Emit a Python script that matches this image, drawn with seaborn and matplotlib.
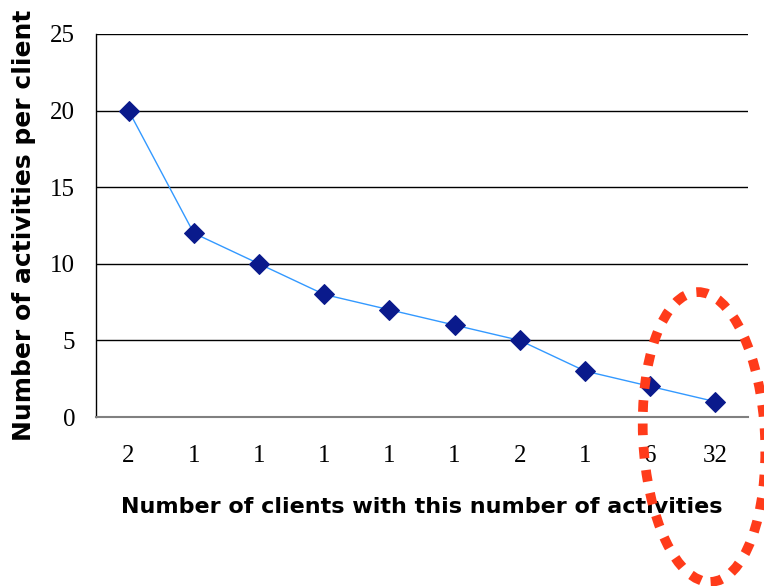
import numpy as np
import matplotlib
matplotlib.use("Agg")
import matplotlib.pyplot as plt
import seaborn as sns
import pandas as pd
from matplotlib.patches import Ellipse

# data
activities = [20, 12, 10, 8, 7, 6, 5, 3, 2, 1]
client_counts = ["2", "1", "1", "1", "1", "1", "2", "1", "6", "32"]

sns.set_style("white")
plt.rcParams["text.color"] = "black"
plt.rcParams["axes.labelcolor"] = "black"
plt.rcParams["xtick.color"] = "black"
plt.rcParams["ytick.color"] = "black"

df = pd.DataFrame({"pos": np.arange(len(activities)), "val": activities})

fig = plt.figure(figsize=(7.64, 5.86), dpi=100)
ax = fig.add_axes([96/764, 1-417/586, (748-96)/764, (417-34)/586])

sns.lineplot(data=df, x="pos", y="val", ax=ax, color="#3399FF", linewidth=1,
             marker="D", markersize=10, markerfacecolor="#0A1A8C",
             markeredgecolor="#0A1A8C")

ax.set_xlim(-0.5, len(activities) - 0.5)
ax.set_ylim(0, 25)
ax.set_yticks([0, 5, 10, 15, 20, 25])
ax.set_yticklabels(["0", "5", "10", "15", "20", "25"], family="Liberation Serif", fontsize=18)
ax.set_xticks(np.arange(len(activities)))
ax.set_xticklabels(client_counts, family="Liberation Serif", fontsize=18)
ax.set_xticks(np.arange(len(activities) + 1) - 0.5, minor=True)
ax.tick_params(axis="x", which="major", length=0, pad=20)
ax.tick_params(axis="x", which="minor", length=7, width=1, color="black", direction="out")
ax.tick_params(axis="y", length=7, width=1, color="black", pad=8, direction="out")
ax.grid(False)
for yv in [5, 10, 15, 20, 25]:
    ax.axhline(yv, color="black", linewidth=1, zorder=0)

for s in ["top", "right"]:
    ax.spines[s].set_visible(False)
ax.spines["left"].set_color("black")
ax.spines["left"].set_linewidth(1)
ax.spines["bottom"].set_color("#808080")
ax.spines["bottom"].set_linewidth(1.5)

ax.set_xlabel("Number of clients with this number of activities", fontsize=16,
              fontweight="bold", family="DejaVu Sans", labelpad=22, color="black")
ax.set_ylabel("Number of activities per client", fontsize=18,
              fontweight="bold", family="DejaVu Sans", labelpad=10, color="black")

ell = Ellipse((704/764, 1-437/586), 122/764, 290/586, angle=2,
              transform=fig.transFigure, fill=False, edgecolor="#FF3B1A",
              linewidth=7, linestyle=(0, (1.2, 1.2)), clip_on=False)
fig.add_artist(ell)

fig.savefig("out.png", dpi=100)
